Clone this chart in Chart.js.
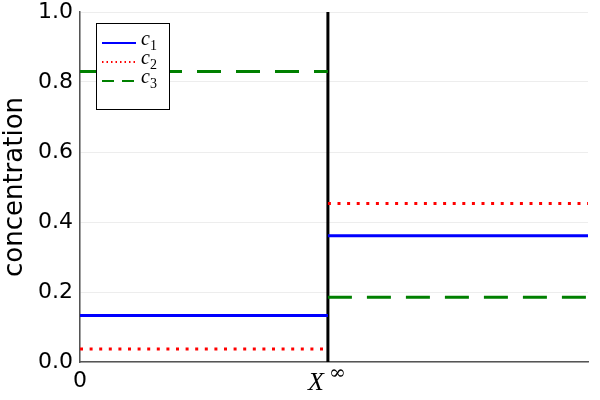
<!DOCTYPE html>
<html>
<head>
<meta charset="utf-8">
<script src="https://cdn.jsdelivr.net/npm/chart.js@4"></script>
<style>
  body { margin: 0; background: #fff; }
  #wrap { position: relative; width: 600px; height: 400px; }
</style>
</head>
<body>
<div id="wrap"><canvas id="chart"></canvas></div>
<script>
// data
const xMax = 1;
const xBreak = 0.488;          // where X^inf sits on the x axis
const xTicks = [0, xBreak];
const seriesNames = ["c", "c", "c"];
const seriesSubs = ["1", "2", "3"];
const c1 = [0.133, 0.361];     // before / after X^inf
const c2 = [0.037, 0.453];
const c3 = [0.83, 0.185];
const yTicks = [0, 0.2, 0.4, 0.6, 0.8, 1.0];

// two flat pieces with a gap at the break
function steps(vals) {
  return [
    { x: 0, y: vals[0] },
    { x: xBreak, y: vals[0] },
    { x: xBreak, y: null },
    { x: xBreak, y: vals[1] },
    { x: xMax, y: vals[1] },
  ];
}

const styles = [
  { color: "#0000ff", dash: [] },
  { color: "#ff0000", dash: [3, 6.6] },
  { color: "#008000", dash: [24, 15] },
];

const datasets = [c1, c2, c3].map((vals, i) => ({
  label: seriesNames[i] + seriesSubs[i],
  data: steps(vals),
  borderColor: styles[i].color,
  borderWidth: 3,
  borderDash: styles[i].dash,
  pointRadius: 0,
  fill: false,
  spanGaps: false,
}));

datasets.push({
  label: "X",
  data: [{ x: xBreak, y: 0 }, { x: xBreak, y: 1 }],
  borderColor: "#000",
  borderWidth: 3,
  pointRadius: 0,
});

// legend box with subscripts, and the X^inf tick label
const extras = {
  id: "extras",
  afterDraw(chart) {
    const ctx = chart.ctx;
    const a = chart.chartArea;
    const bx = a.left + 16, by = a.top + 11;
    ctx.save();
    ctx.fillStyle = "#fff";
    ctx.fillRect(bx, by, 73, 86);
    ctx.strokeStyle = "#000";
    ctx.lineWidth = 1;
    ctx.strokeRect(bx + 0.5, by + 0.5, 73, 86);
    for (let i = 0; i < 3; i++) {
      const y = by + 20 + i * 19;
      ctx.beginPath();
      ctx.strokeStyle = styles[i].color;
      ctx.lineWidth = 2;
      ctx.setLineDash(i == 1 ? [1.5, 3] : i == 2 ? [12, 8] : []);
      ctx.moveTo(bx + 6, y);
      ctx.lineTo(bx + 40, y);
      ctx.stroke();
      ctx.setLineDash([]);
      ctx.fillStyle = "#000";
      ctx.textBaseline = "alphabetic";
      ctx.textAlign = "left";
      ctx.font = "italic 20px 'Liberation Serif'";
      ctx.fillText(seriesNames[i], bx + 45, y + 2);
      ctx.font = "14px 'Liberation Serif'";
      ctx.fillText(seriesSubs[i], bx + 54, y + 7);
    }
    // X^inf
    const px = chart.scales.x.getPixelForValue(xBreak);
    ctx.fillStyle = "#000";
    ctx.font = "italic 26px 'Liberation Serif'";
    ctx.textAlign = "left";
    ctx.fillText("X", px - 20, a.bottom + 28);
    ctx.font = "20px 'DejaVu Serif'";
    ctx.fillText("\u221e", px + 1, a.bottom + 17);
    ctx.restore();
  },
};

new Chart(document.getElementById("chart"), {
  type: "line",
  data: { datasets },
  options: {
    responsive: true,
    maintainAspectRatio: false,
    animation: false,
    layout: { padding: { top: 12, right: 12, left: 0, bottom: 0 } },
    plugins: { legend: { display: false }, tooltip: { enabled: false } },
    scales: {
      x: {
        type: "linear",
        min: 0,
        max: xMax,
        afterBuildTicks: (s) => { s.ticks = xTicks.map((v) => ({ value: v })); },
        afterFit: (s) => { s.height = 38; s.paddingLeft = 0; s.paddingRight = 0; },
        ticks: {
          autoSkip: false,
          maxRotation: 0,
          padding: 6,
          color: "#000",
          font: { family: "DejaVu Sans", size: 22 },
          callback: (v) => (v === 0 ? "0" : ""),
        },
        grid: { color: "rgba(0,0,0,0.07)", drawTicks: false },
        border: { color: "#555", width: 1.5 },
      },
      y: {
        min: 0,
        max: 1,
        afterBuildTicks: (s) => { s.ticks = yTicks.map((v) => ({ value: v })); },
        afterFit: (s) => { s.width = 80; s.paddingTop = 0; s.paddingBottom = 0; },
        ticks: {
          padding: 7,
          color: "#000",
          font: { family: "DejaVu Sans", size: 22 },
          callback: (v) => v.toFixed(1),
        },
        grid: { color: "rgba(0,0,0,0.07)", drawTicks: false },
        border: { color: "#555", width: 1.5 },
        title: {
          display: true,
          text: "concentration",
          color: "#000",
          font: { family: "DejaVu Sans", size: 26 },
          padding: { top: 0, bottom: 0 },
        },
      },
    },
  },
  plugins: [extras],
});
</script>
</body>
</html>
